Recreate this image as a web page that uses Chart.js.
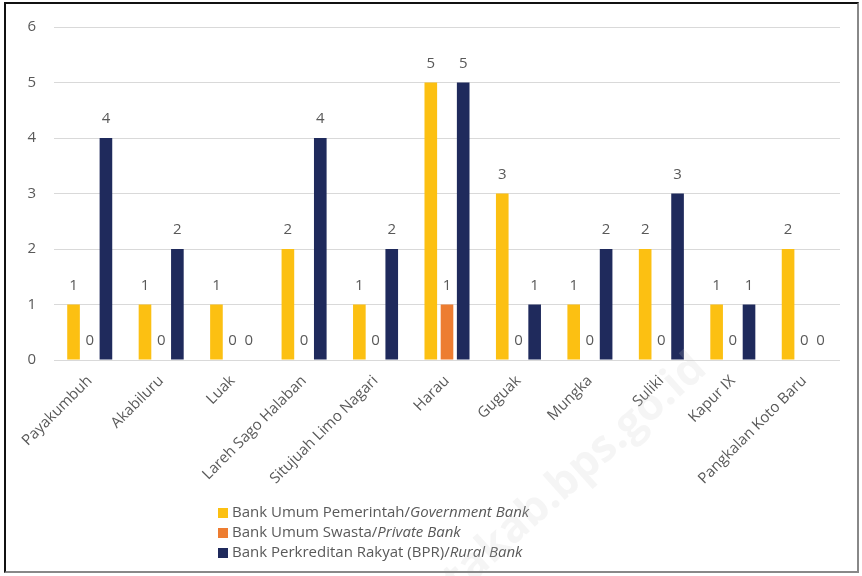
<!DOCTYPE html>
<html>
<head>
<meta charset="utf-8">
<script src="https://cdn.jsdelivr.net/npm/chart.js@4"></script>
<style>
  html, body { margin: 0; padding: 0; background: #fff; }
  #wrap { position: relative; width: 862px; height: 576px; }
  #frame {
    position: absolute; left: 4px; top: 2px; width: 851px; height: 567px;
    border-left: 2px solid #111; border-top: 2px solid #111;
    border-right: 2px solid #888; border-bottom: 2px solid #888;
    pointer-events: none;
  }
</style>
</head>
<body>
<div id="wrap">
  <canvas id="chart" width="862" height="576"></canvas>
  <div id="frame"></div>
</div>
<script>
// Kecamatan
const categories = ['Payakumbuh', 'Akabiluru', 'Luak', 'Lareh Sago Halaban', 'Situjuah Limo Nagari',
  'Harau', 'Guguak', 'Mungka', 'Suliki', 'Kapur IX', 'Pangkalan Koto Baru'];
const bankPemerintah = [1, 1, 1, 2, 1, 5, 3, 1, 2, 1, 2];
const bankSwasta = [0, 0, 0, 0, 0, 1, 0, 0, 0, 0, 0];
const bankBPR = [4, 2, 0, 4, 2, 5, 1, 2, 3, 1, 0];
const yTicks = [0, 1, 2, 3, 4, 5, 6];

// legend: [normal part, italic part]
const legendLabels = [
  ['Bank Umum Pemerintah/', 'Government Bank'],
  ['Bank Umum Swasta/', 'Private Bank'],
  ['Bank Perkreditan Rakyat (BPR)/', 'Rural Bank']
];
const colors = ['#FCC012', '#ED7D31', '#1F2A5C'];
const FONT = '"Open Sans", sans-serif';
const TEXT = '#595959';

// angka di atas batang
const valueLabels = {
  id: 'valueLabels',
  afterDatasetsDraw(chart) {
    const ctx = chart.ctx;
    ctx.save();
    ctx.font = '15px ' + FONT;
    ctx.fillStyle = TEXT;
    ctx.textAlign = 'center';
    ctx.textBaseline = 'middle';
    chart.data.datasets.forEach((ds, i) => {
      chart.getDatasetMeta(i).data.forEach((bar, j) => {
        ctx.fillText(String(ds.data[j]), bar.x, bar.y - 19);
      });
    });
    ctx.restore();
  }
};

// legenda dengan teks miring
const customLegend = {
  id: 'customLegend',
  afterDraw(chart) {
    const ctx = chart.ctx;
    ctx.save();
    ctx.textBaseline = 'middle';
    legendLabels.forEach((parts, i) => {
      const y = 513 + i * 20;
      ctx.fillStyle = chart.data.datasets[i].backgroundColor;
      ctx.fillRect(218, y - 5, 10, 10);
      ctx.fillStyle = TEXT;
      ctx.font = '15px ' + FONT;
      ctx.fillText(parts[0], 232, y);
      const w = ctx.measureText(parts[0]).width;
      ctx.font = 'italic 15px ' + FONT;
      ctx.fillText(parts[1], 232 + w, y);
    });
    ctx.restore();
  }
};

// watermark samar
const watermark = {
  id: 'watermark',
  afterDraw(chart) {
    const ctx = chart.ctx;
    ctx.save();
    ctx.translate(700, 362);
    ctx.rotate(-Math.PI / 4.3);
    ctx.font = 'bold 44px ' + FONT;
    ctx.fillStyle = 'rgba(200,200,200,0.18)';
    ctx.textAlign = 'right';
    ctx.textBaseline = 'middle';
    ctx.fillText('limapuluhkotakab.bps.go.id', 0, 0);
    ctx.restore();
  }
};

new Chart(document.getElementById('chart'), {
  type: 'bar',
  data: {
    labels: categories,
    datasets: [
      { label: legendLabels[0].join(''), data: bankPemerintah, backgroundColor: colors[0] },
      { label: legendLabels[1].join(''), data: bankSwasta, backgroundColor: colors[1] },
      { label: legendLabels[2].join(''), data: bankBPR, backgroundColor: colors[2] }
    ]
  },
  options: {
    responsive: false,
    animation: false,
    categoryPercentage: 0.68,
    barPercentage: 0.78,
    layout: { padding: { top: 25, right: 22, left: 0, bottom: 0 } },
    plugins: { legend: { display: false }, tooltip: { enabled: false } },
    scales: {
      x: {
        grid: { display: false },
        border: { display: false },
        ticks: { color: TEXT, font: { family: FONT, size: 15 }, minRotation: 45, maxRotation: 45, padding: 4 },
        afterFit(scale) { scale.height = 216; }
      },
      y: {
        min: 0, max: 6,
        afterBuildTicks(scale) { scale.ticks = yTicks.map(v => ({ value: v })); },
        grid: { color: '#d9d9d9', drawTicks: false },
        border: { display: false },
        ticks: { color: TEXT, font: { family: FONT, size: 15 }, padding: 18 },
        afterFit(scale) { scale.width = 54; }
      }
    }
  },
  plugins: [valueLabels, customLegend, watermark]
});
</script>
</body>
</html>
